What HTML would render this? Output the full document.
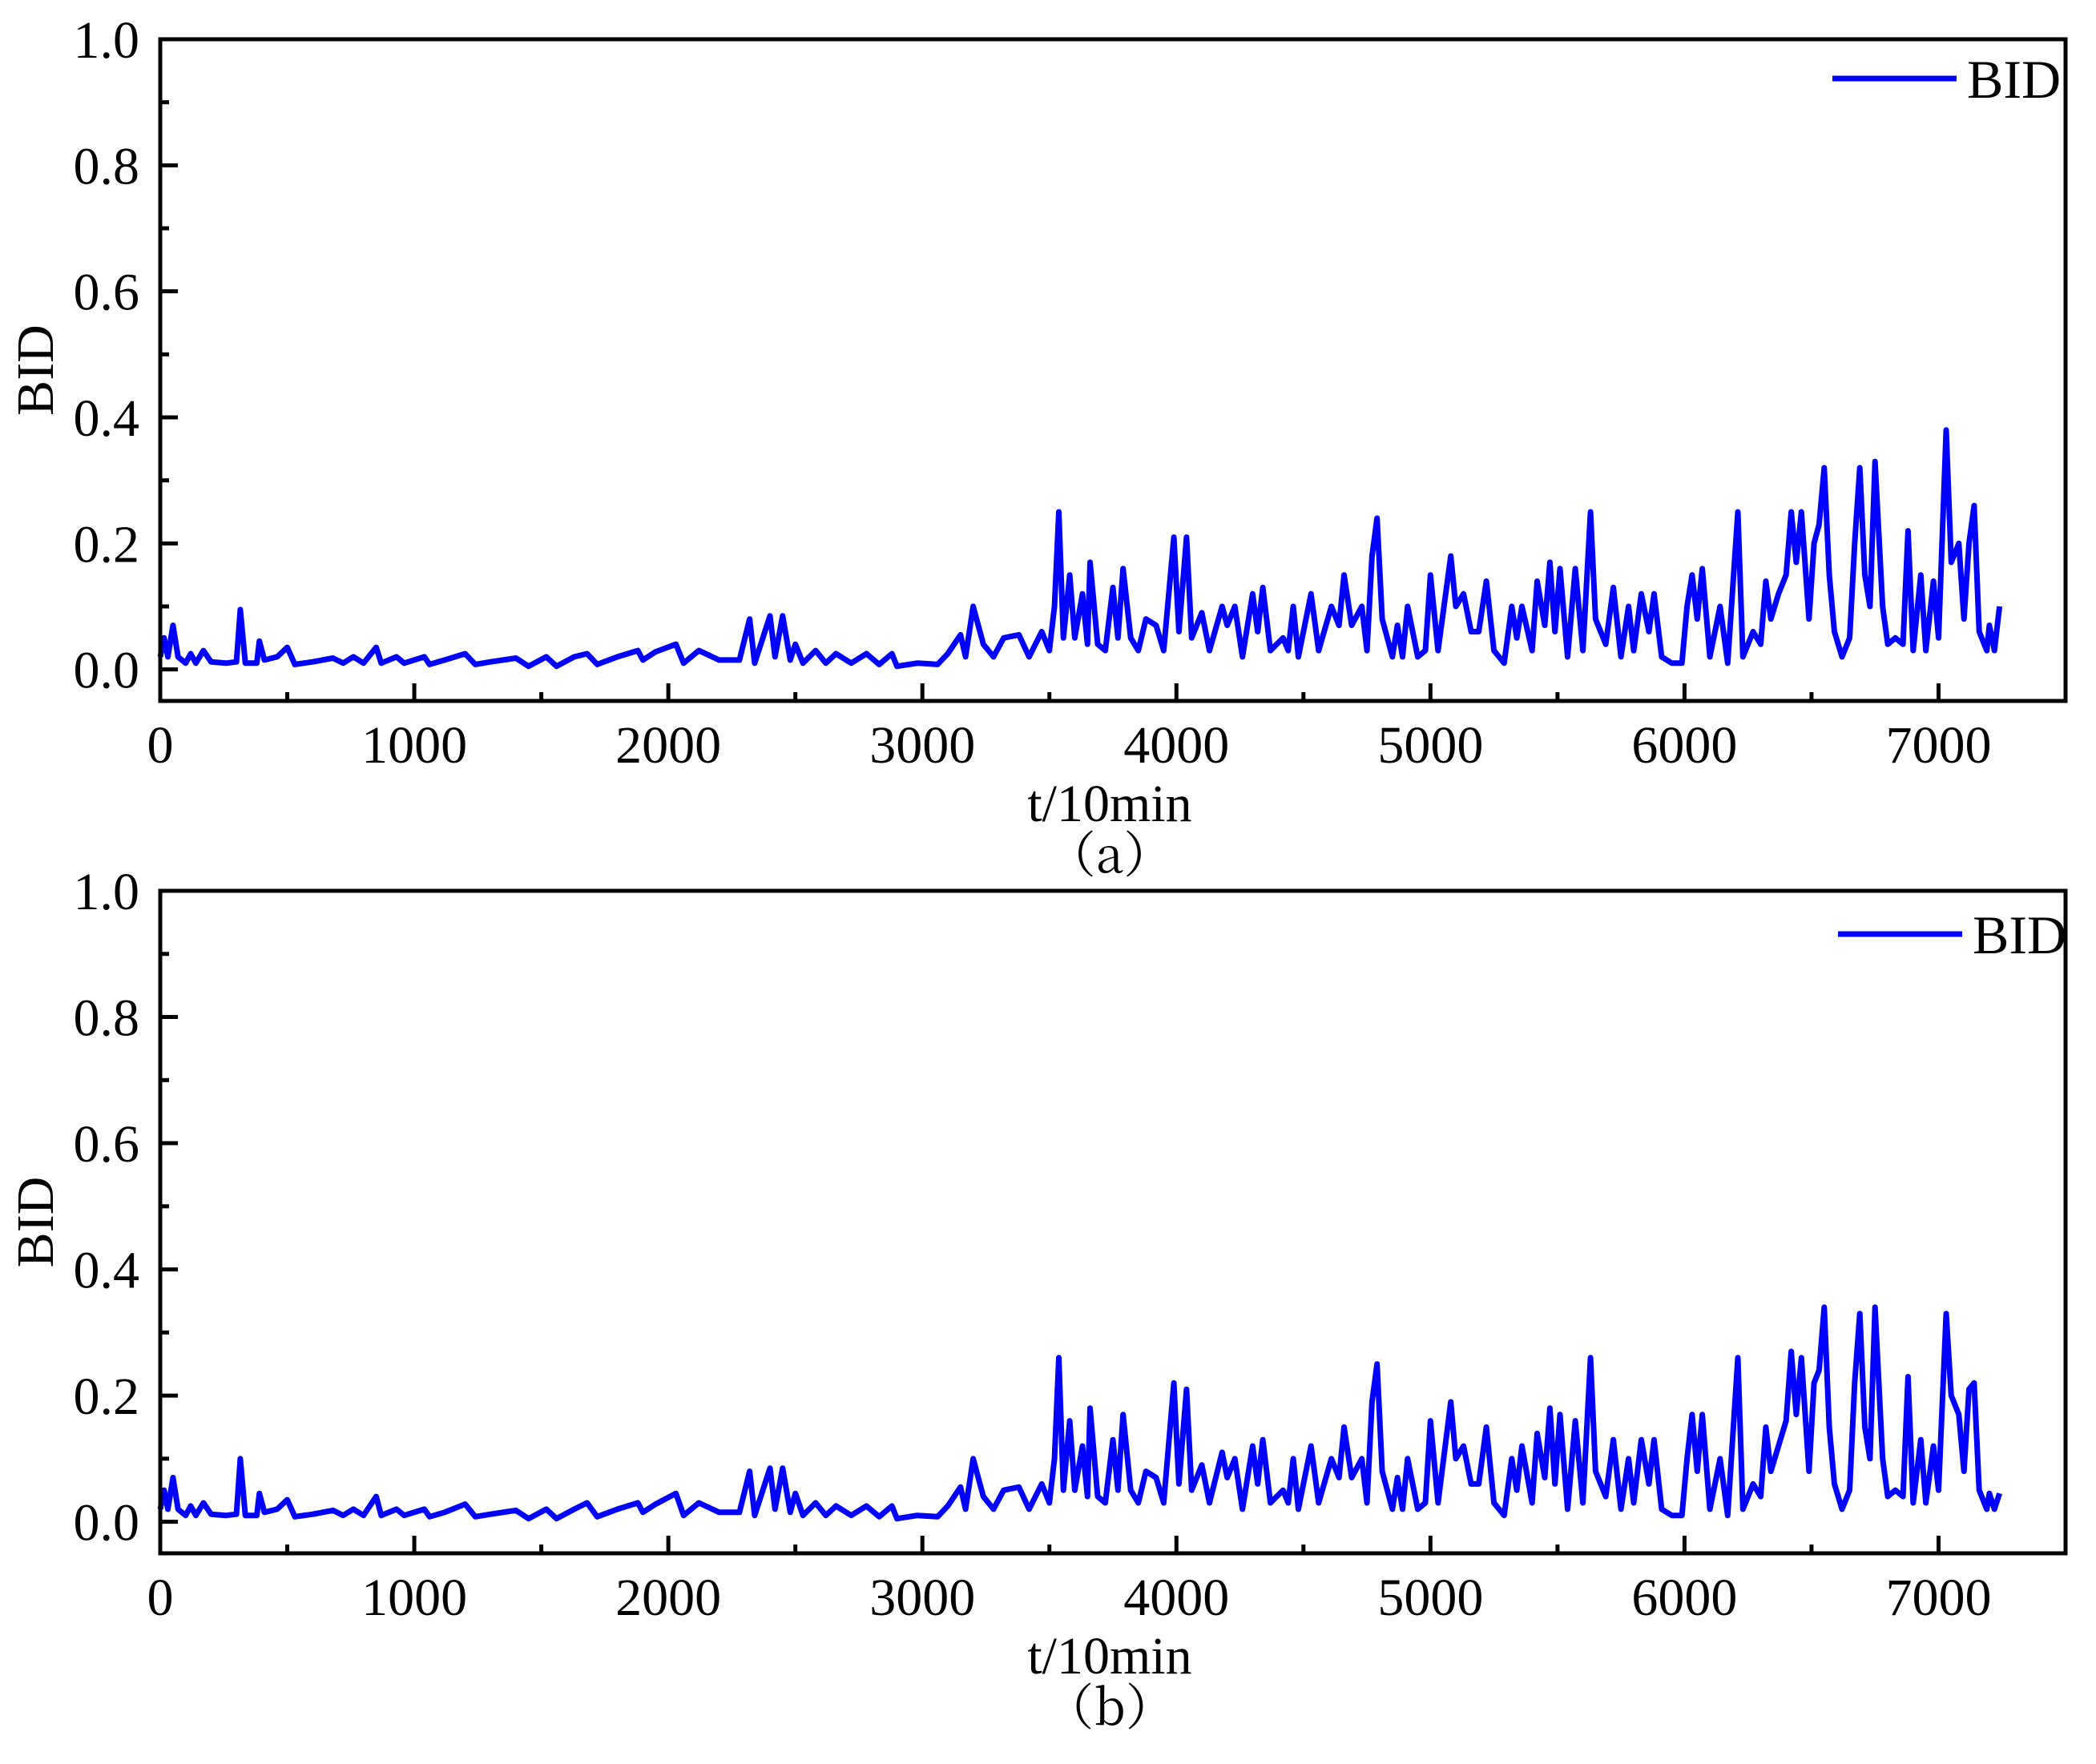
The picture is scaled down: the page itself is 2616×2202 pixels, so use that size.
<!DOCTYPE html>
<html><head><meta charset="utf-8"><style>
html,body{margin:0;padding:0;background:#fff;}
svg{display:block;font-family:"Liberation Serif","Noto Serif CJK SC",serif;}
</style></head><body>
<svg id="chart" width="2616" height="2202" viewBox="0 0 2616 2202"></svg>
<script>
const xTicks=[0,1000,2000,3000,4000,5000,6000,7000];
const yTicks=[0.0,0.2,0.4,0.6,0.8,1.0];
const yTickLabels=["0.0","0.2","0.4","0.6","0.8","1.0"];
const seriesA=[[0,0.02],[15,0.05],[30,0.02],[50,0.07],[70,0.02],[100,0.01],[120,0.025],[140,0.01],[170,0.03],[200,0.012],[260,0.01],[300,0.012],[315,0.095],[335,0.01],[380,0.01],[390,0.045],[410,0.015],[460,0.02],[500,0.035],[530,0.008],[600,0.012],[680,0.018],[720,0.01],[760,0.02],[800,0.01],[850,0.035],[870,0.01],[930,0.02],[960,0.01],[1040,0.02],[1060,0.008],[1120,0.015],[1200,0.025],[1240,0.008],[1300,0.012],[1400,0.018],[1450,0.005],[1520,0.02],[1560,0.005],[1630,0.02],[1680,0.025],[1720,0.008],[1800,0.02],[1880,0.03],[1900,0.015],[1950,0.028],[2030,0.04],[2060,0.01],[2120,0.03],[2200,0.015],[2280,0.015],[2320,0.08],[2340,0.01],[2400,0.085],[2420,0.02],[2450,0.085],[2480,0.015],[2500,0.04],[2530,0.01],[2580,0.03],[2620,0.01],[2660,0.025],[2720,0.01],[2780,0.025],[2830,0.008],[2880,0.025],[2900,0.005],[2980,0.01],[3060,0.008],[3100,0.025],[3150,0.055],[3170,0.02],[3200,0.1],[3240,0.04],[3280,0.02],[3320,0.05],[3380,0.055],[3420,0.02],[3470,0.06],[3500,0.03],[3520,0.1],[3537,0.25],[3555,0.05],[3580,0.15],[3600,0.05],[3630,0.12],[3650,0.04],[3660,0.17],[3690,0.04],[3720,0.03],[3750,0.13],[3770,0.05],[3790,0.16],[3820,0.05],[3850,0.03],[3880,0.08],[3920,0.07],[3950,0.03],[3990,0.21],[4010,0.06],[4040,0.21],[4060,0.05],[4100,0.09],[4130,0.03],[4180,0.1],[4200,0.07],[4230,0.1],[4260,0.02],[4300,0.12],[4320,0.06],[4340,0.13],[4370,0.03],[4420,0.05],[4440,0.03],[4460,0.1],[4480,0.02],[4530,0.12],[4560,0.03],[4610,0.1],[4640,0.07],[4660,0.15],[4690,0.07],[4730,0.1],[4750,0.03],[4770,0.18],[4790,0.24],[4810,0.08],[4850,0.02],[4870,0.07],[4890,0.02],[4910,0.1],[4950,0.02],[4980,0.03],[5000,0.15],[5030,0.03],[5080,0.18],[5100,0.1],[5130,0.12],[5160,0.06],[5190,0.06],[5220,0.14],[5250,0.03],[5290,0.01],[5320,0.1],[5340,0.05],[5360,0.1],[5400,0.03],[5420,0.14],[5450,0.07],[5470,0.17],[5490,0.06],[5510,0.16],[5540,0.02],[5570,0.16],[5600,0.03],[5630,0.25],[5650,0.08],[5690,0.04],[5720,0.13],[5750,0.02],[5780,0.1],[5800,0.03],[5830,0.12],[5860,0.06],[5880,0.12],[5910,0.02],[5950,0.01],[5990,0.01],[6010,0.1],[6030,0.15],[6050,0.08],[6070,0.16],[6100,0.02],[6140,0.1],[6170,0.01],[6210,0.25],[6230,0.02],[6270,0.06],[6300,0.04],[6320,0.14],[6340,0.08],[6370,0.12],[6400,0.15],[6420,0.25],[6440,0.17],[6460,0.25],[6490,0.08],[6510,0.2],[6530,0.23],[6550,0.32],[6570,0.15],[6590,0.06],[6620,0.02],[6650,0.05],[6670,0.2],[6690,0.32],[6710,0.15],[6730,0.1],[6750,0.33],[6780,0.1],[6800,0.04],[6830,0.05],[6860,0.04],[6880,0.22],[6900,0.03],[6930,0.15],[6950,0.03],[6980,0.14],[7000,0.05],[7030,0.38],[7050,0.17],[7080,0.2],[7100,0.08],[7120,0.2],[7140,0.26],[7160,0.06],[7190,0.03],[7200,0.07],[7220,0.03],[7240,0.1]];
const seriesB=[[0,0.02],[15,0.05],[30,0.02],[50,0.07],[70,0.02],[100,0.01],[120,0.025],[140,0.01],[170,0.03],[200,0.012],[260,0.01],[300,0.012],[315,0.1],[335,0.01],[380,0.01],[390,0.045],[410,0.015],[460,0.02],[500,0.035],[530,0.008],[600,0.012],[680,0.018],[720,0.01],[760,0.02],[800,0.01],[850,0.04],[870,0.01],[930,0.02],[960,0.01],[1040,0.02],[1060,0.008],[1120,0.015],[1200,0.028],[1240,0.008],[1300,0.012],[1400,0.018],[1450,0.005],[1520,0.02],[1560,0.005],[1630,0.02],[1680,0.03],[1720,0.008],[1800,0.02],[1880,0.03],[1900,0.015],[1950,0.028],[2030,0.045],[2060,0.01],[2120,0.03],[2200,0.015],[2280,0.015],[2320,0.08],[2340,0.01],[2400,0.085],[2420,0.02],[2450,0.085],[2480,0.015],[2500,0.045],[2530,0.01],[2580,0.03],[2620,0.01],[2660,0.025],[2720,0.01],[2780,0.025],[2830,0.008],[2880,0.025],[2900,0.005],[2980,0.01],[3060,0.008],[3100,0.025],[3150,0.055],[3170,0.02],[3200,0.1],[3240,0.04],[3280,0.02],[3320,0.05],[3380,0.055],[3420,0.02],[3470,0.06],[3500,0.03],[3520,0.1],[3537,0.26],[3555,0.05],[3580,0.16],[3600,0.05],[3630,0.12],[3650,0.04],[3660,0.18],[3690,0.04],[3720,0.03],[3750,0.13],[3770,0.05],[3790,0.17],[3820,0.05],[3850,0.03],[3880,0.08],[3920,0.07],[3950,0.03],[3990,0.22],[4010,0.06],[4040,0.21],[4060,0.05],[4100,0.09],[4130,0.03],[4180,0.11],[4200,0.07],[4230,0.1],[4260,0.02],[4300,0.12],[4320,0.06],[4340,0.13],[4370,0.03],[4420,0.05],[4440,0.03],[4460,0.1],[4480,0.02],[4530,0.12],[4560,0.03],[4610,0.1],[4640,0.07],[4660,0.15],[4690,0.07],[4730,0.1],[4750,0.03],[4770,0.19],[4790,0.25],[4810,0.08],[4850,0.02],[4870,0.07],[4890,0.02],[4910,0.1],[4950,0.02],[4980,0.03],[5000,0.16],[5030,0.03],[5080,0.19],[5100,0.1],[5130,0.12],[5160,0.06],[5190,0.06],[5220,0.15],[5250,0.03],[5290,0.01],[5320,0.1],[5340,0.05],[5360,0.12],[5400,0.03],[5420,0.14],[5450,0.07],[5470,0.18],[5490,0.06],[5510,0.17],[5540,0.02],[5570,0.16],[5600,0.03],[5630,0.26],[5650,0.08],[5690,0.04],[5720,0.13],[5750,0.02],[5780,0.1],[5800,0.03],[5830,0.13],[5860,0.06],[5880,0.13],[5910,0.02],[5950,0.01],[5990,0.01],[6010,0.1],[6030,0.17],[6050,0.08],[6070,0.17],[6100,0.02],[6140,0.1],[6170,0.01],[6210,0.26],[6230,0.02],[6270,0.06],[6300,0.04],[6320,0.15],[6340,0.08],[6370,0.12],[6400,0.16],[6420,0.27],[6440,0.17],[6460,0.26],[6490,0.08],[6510,0.22],[6530,0.24],[6550,0.34],[6570,0.15],[6590,0.06],[6620,0.02],[6650,0.05],[6670,0.22],[6690,0.33],[6710,0.15],[6730,0.1],[6750,0.34],[6780,0.1],[6800,0.04],[6830,0.05],[6860,0.04],[6880,0.23],[6900,0.03],[6930,0.13],[6950,0.03],[6980,0.12],[7000,0.05],[7030,0.33],[7050,0.2],[7080,0.17],[7100,0.08],[7120,0.21],[7140,0.22],[7160,0.05],[7190,0.02],[7200,0.045],[7220,0.02],[7240,0.045]];

const NS="http://www.w3.org/2000/svg";
const svg=document.getElementById('chart');
function mk(tag,attrs,parent){const e=document.createElementNS(NS,tag);for(const k in attrs)e.setAttribute(k,attrs[k]);(parent||svg).appendChild(e);return e;}
const X0=200,X1=2578,XMIN=0,XMAX=7500,YMIN=-0.05,YMAX=1.0;
function xs(t){return X0+(t-XMIN)/(XMAX-XMIN)*(X1-X0);}

function panel(top,bottom,series,letter,legendX,legendY,tag){
  const g=mk('g',{});
  
  
  const ys=v=>bottom-(v-YMIN)/(YMAX-YMIN)*(bottom-top);
  const d=series.map((p,i)=>(i?'L':'M')+xs(p[0]).toFixed(1)+','+ys(p[1]).toFixed(1)).join('');
  const line=mk('path',{d:d,fill:'none',stroke:'#0000ff','stroke-width':7,'stroke-linejoin':'round'},g);
  
  
  const fr=mk('rect',{x:X0,y:top,width:X1-X0,height:bottom-top,fill:'none',stroke:'#000','stroke-width':5},g);
  
  
  for(let k=0;k<=10;k++){const v=k/10;const y=ys(v);const major=k%2===0;
    mk('line',{x1:X0,x2:X0+(major?22:11),y1:y,y2:y,stroke:'#000','stroke-width':5},g);}
  yTicks.forEach((v,i)=>{const t=mk('text',{x:174,y:ys(v)+23,'text-anchor':'end','font-size':66},g);t.textContent=yTickLabels[i];
    
    });
  for(let t=0;t<=7000;t+=500){const x=xs(t);const major=t%1000===0;
    mk('line',{x1:x,x2:x,y1:bottom,y2:bottom-(major?22:11),stroke:'#000','stroke-width':5},g);}
  xTicks.forEach(v=>{const t=mk('text',{x:xs(v),y:bottom+77,'text-anchor':'middle','font-size':66},g);t.textContent=String(v);
    
    });
  const xt=mk('text',{x:1385,y:bottom+150,'text-anchor':'middle','font-size':66},g);xt.textContent='t/10min';
  
  
  const cap=mk('text',{x:1385,y:bottom+214,'text-anchor':'middle','font-size':62,'font-family':'"Noto Serif CJK SC","Liberation Serif",serif'},g);cap.textContent='（'+letter+'）';
  
  
  const cy=(top+bottom)/2;
  const yt=mk('text',{x:0,y:0,'text-anchor':'middle','font-size':66,transform:'translate(66,'+cy+') rotate(-90)'},g);yt.textContent='BID';
  
  
  const lg=mk('g',{},g);
  
  
  mk('line',{x1:legendX,x2:legendX+155,y1:legendY,y2:legendY,stroke:'#0000ff','stroke-width':7},lg);
  const lt=mk('text',{x:legendX+168,y:legendY+24,'font-size':68},lg);lt.textContent='BID';
  
  
}
panel(49,875,seriesA,'a',2287,98,'a');
panel(1112,1939,seriesB,'b',2294,1166,'b');
</script>
</body></html>
